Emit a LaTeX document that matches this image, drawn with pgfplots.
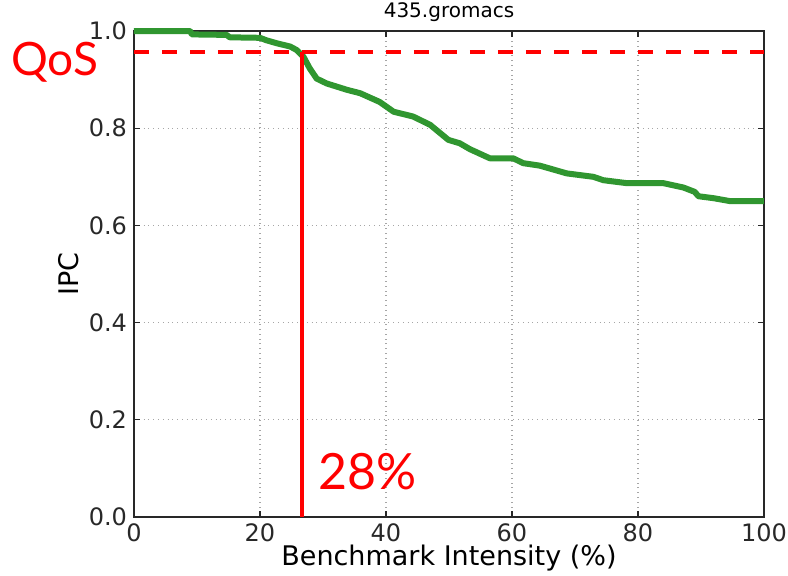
\documentclass[border=0pt]{standalone}
\usepackage{pgfplots}
\pgfplotsset{compat=1.18}
\usepackage{fontspec}
\setmainfont{DejaVu Sans}
\newfontfamily\annfont{Lato}
\definecolor{mplgreen}{RGB}{48,150,48}
\definecolor{spine}{RGB}{40,40,40}
\begin{document}
\begin{tikzpicture}
\begin{axis}[
  scale only axis,
  width=315pt, height=243pt,
  xmin=0, xmax=100, ymin=0, ymax=1.0,
  xtick={0,20,40,60,80,100},
  ytick={0,0.2,0.4,0.6,0.8,1.0},
  yticklabel style={/pgf/number format/.cd,fixed,fixed zerofill,precision=1},
  /pgf/number format/assume math mode=true,
  tick label style={font=\fontsize{12}{14}\selectfont, text=spine},
  xticklabel style={yshift=0pt},
  tick align=inside,
  major tick length=3pt,
  axis line style={spine, line width=0.8pt},
  every tick/.style={spine, line width=0.6pt},
  grid=major,
  major grid style={gray!70, dotted, line width=0.6pt},
  xlabel={Benchmark Intensity (\%)},
  ylabel={IPC},
  label style={font=\fontsize{13.5}{15}\selectfont},
  xlabel style={yshift=3pt, inner ysep=1pt},
  ylabel style={yshift=-2pt},
  title={435.gromacs},
  title style={font=\fontsize{10}{12}\selectfont, yshift=-5pt},
  clip=false,
]
\addplot[mplgreen, line width=3pt, line join=round] coordinates {
(0,1.0) (8.9,1.0) (9.2,0.993) (14.7,0.992) (15.2,0.987) (20,0.986)
(21,0.981) (22.6,0.975) (24.8,0.968) (25.8,0.961) (26.9,0.947)
(27.9,0.923) (29,0.902) (30.6,0.892) (33.8,0.879) (35.9,0.872)
(39.0,0.854) (41.2,0.834) (44.3,0.824) (47,0.807) (49.9,0.776)
(51.7,0.769) (53.3,0.757) (56.5,0.738) (60.2,0.738) (61.8,0.728)
(64.4,0.723) (68.7,0.707) (72.9,0.700) (74.5,0.693) (78.2,0.687)
(84.0,0.687) (87.2,0.678) (89.0,0.669) (89.6,0.660) (92,0.656)
(94.6,0.650) (100,0.650)
};
\addplot[red, line width=2pt, dash pattern=on 7.5pt off 6.5pt] coordinates {(0,0.956) (100,0.956)};
\addplot[red, line width=2pt] coordinates {(26.6,0) (26.6,0.956)};
\node[red, font=\annfont\fontsize{23}{26}\selectfont] at (axis cs:-12.6,0.935) {QoS};
\node[red, font=\annfont\fontsize{25}{28}\selectfont] at (axis cs:37.0,0.093) {28\%};
\end{axis}
\pgfresetboundingbox
\path[use as bounding box] (current axis.south west) ++(-67pt,-29pt) rectangle ([shift={(12pt,15.5pt)}]current axis.north east);
\end{tikzpicture}
\end{document}
